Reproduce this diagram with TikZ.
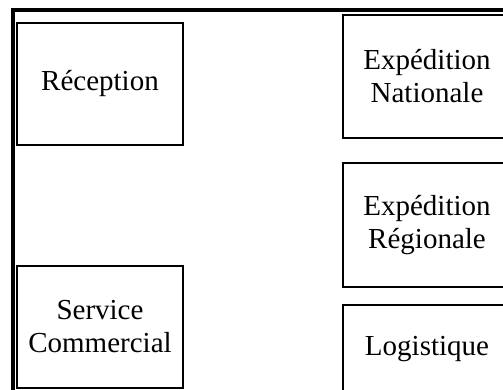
\documentclass[tikz,border=0pt]{standalone}
\usepackage{fontspec}
\setmainfont{Liberation Serif}
\tikzset{dept/.style={draw, line width=1.5pt, minimum width=166pt, minimum height=122pt, inner sep=0pt, align=center, font=\fontsize{29}{33}\selectfont}}

\begin{document}
\begin{tikzpicture}[x=1pt, y=-1pt]
    \useasboundingbox (0,0) rectangle (503,389);
    \clip (0,0) rectangle (503,389);
    % Outer frame
    \draw[line width=3.5pt] (13,10) rectangle (530,420);

    % Left column
    \node[dept] (reception) at (100,84) {Réception};
    \node[dept] (commercial) at (100,327) {Service\\Commercial};

    % Right column (runs past the edge)
    \node[dept, minimum width=168pt, minimum height=123pt] (nationale) at (427,76.5) {Expédition\\Nationale};
    \node[dept, minimum width=168pt, minimum height=124pt] (regionale) at (427,225) {Expédition\\Régionale};
    \node[dept, minimum width=168pt, minimum height=88pt] (logistique) at (427,349) {Logistique};
\end{tikzpicture}
\end{document}
